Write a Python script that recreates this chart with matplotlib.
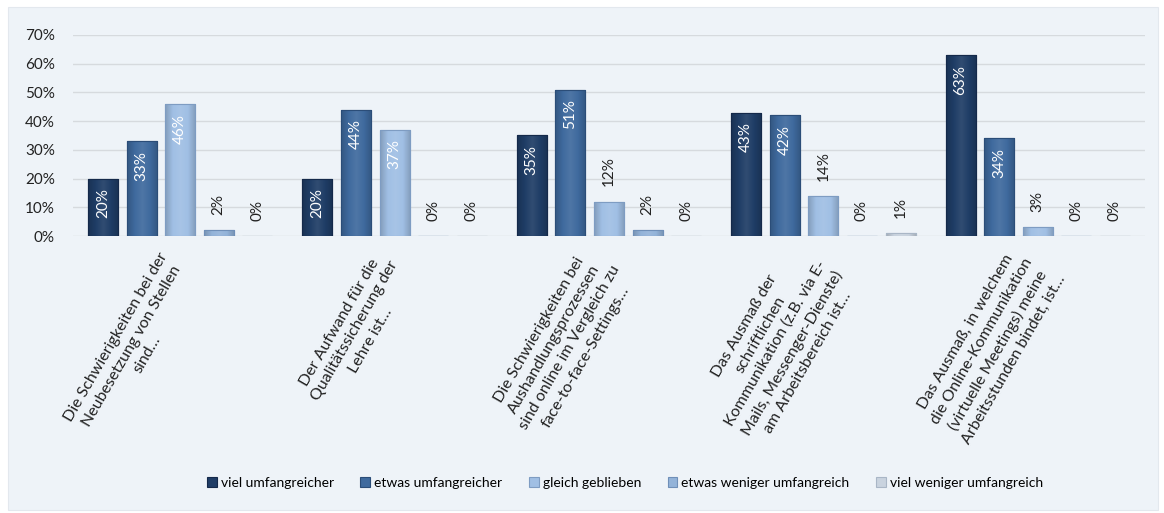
import matplotlib
matplotlib.use("Agg")
import matplotlib.pyplot as plt
from matplotlib.patches import Rectangle
from matplotlib.colors import LinearSegmentedColormap, to_rgb
import numpy as np

categories = [
    "Die Schwierigkeiten bei der\nNeubesetzung von Stellen\nsind…",
    "Der Aufwand für die\nQualitätssicherung der\nLehre ist…",
    "Die Schwierigkeiten bei\nAushandlungsprozessen\nsind online im Vergleich zu\nface-to-face-Settings…",
    "Das Ausmaß der\nschriftlichen\nKommunikation (z.B. via E-\nMails, Messenger-Dienste)\nam Arbeitsbereich ist…",
    "Das Ausmaß, in welchem\ndie Online-Kommunikation\n(virtuelle Meetings) meine\nArbeitsstunden bindet, ist…",
]
series_names = ["viel umfangreicher", "etwas umfangreicher", "gleich geblieben",
                "etwas weniger umfangreich", "viel weniger umfangreich"]
viel_umfangreicher = [20, 20, 35, 43, 63]
etwas_umfangreicher = [33, 44, 51, 42, 34]
gleich_geblieben = [46, 37, 12, 14, 3]
etwas_weniger = [2, 0, 2, 0, 0]
viel_weniger = [0, 0, 0, 1, 0]
values = [viel_umfangreicher, etwas_umfangreicher, gleich_geblieben, etwas_weniger, viel_weniger]
yticks = [0, 10, 20, 30, 40, 50, 60, 70]

colors = ["#1f3d66", "#3f6a9e", "#a0bfe4", "#93b3d9", "#c9d3df"]
edges = ["#14294a", "#2b4d78", "#7e9cc2", "#6f8fb8", "#a9b6c6"]

plt.rcParams['font.family'] = ['Lato', 'DejaVu Sans']

fig = plt.figure(figsize=(11.64, 5.13), dpi=100)
fig.patch.set_facecolor("white")
fig.patches.append(Rectangle((8/1164, 3/513), 1150/1164, 503/513, transform=fig.transFigure,
                             facecolor="#eef3f8", edgecolor="#e3e8ee", lw=0.8, zorder=-5))

ax = fig.add_axes([73/1164, 1-236/513, (1145-73)/1164, (236-35)/513])
ax.set_facecolor("none")


def shade(c, f):
    r = np.array(to_rgb(c))
    if f < 1:
        return tuple(r * f)
    return tuple(r + (1 - r) * (f - 1))


x = np.arange(len(categories))
step = 0.18
width = 0.14
prof = np.linspace(0, 1, 64)
grad = np.vstack([prof, prof])
for i, (name, vals) in enumerate(zip(series_names, values)):
    pos = x + (i - 2) * step
    bars = ax.bar(pos, [v / 100 for v in vals], width, color=colors[i], edgecolor=edges[i],
                  linewidth=0.8, label=name, zorder=3)
    cmap = LinearSegmentedColormap.from_list(
        f"g{i}", [shade(colors[i], 0.82), shade(colors[i], 1.0), shade(colors[i], 1.08),
                  shade(colors[i], 1.0), shade(colors[i], 0.82)])
    for b, v in zip(bars, vals):
        cx = b.get_x() + b.get_width() / 2
        h = b.get_height()
        if h > 0:
            im = ax.imshow(grad, extent=[b.get_x(), b.get_x() + b.get_width(), 0, h],
                           aspect="auto", cmap=cmap, zorder=3.1, interpolation="bilinear")
            im.set_clip_path(b)
        if v >= 20:
            ax.annotate(f"{v}%", (cx, h), xytext=(0, -7), textcoords="offset points",
                        rotation=90, ha="center", va="top", color="white", fontsize=11, zorder=4)
        else:
            ax.annotate(f"{v}%", (cx, h), xytext=(0, 11), textcoords="offset points",
                        rotation=90, ha="center", va="bottom", color="#222222", fontsize=11, zorder=4)
    for b in bars:
        ax.add_patch(Rectangle((b.get_x(), 0), b.get_width(), b.get_height(), fill=False,
                               edgecolor=edges[i], lw=0.8, zorder=3.2))

ax.set_ylim(0, 0.7)
ax.set_xlim(-0.5, len(categories) - 0.5)
ax.set_yticks([t / 100 for t in yticks])
ax.set_yticklabels([f"{t}%" for t in yticks], fontsize=11, color="#222222")
ax.yaxis.grid(True, color="#d6dade", lw=1, zorder=0)
ax.set_axisbelow(True)
for s in ax.spines.values():
    s.set_visible(False)
ax.tick_params(axis="y", length=0, pad=13)
ax.tick_params(axis="x", length=0, pad=19)
ax.set_xticks(x)
ax.set_xticklabels(categories, rotation=60, ha="right", va="center", rotation_mode="anchor",
                   multialignment="center", fontsize=11.5, color="#222222", linespacing=1.35)

handles, labels = ax.get_legend_handles_labels()
fig.legend(handles, labels, loc="center", bbox_to_anchor=(625/1164, 1-483/513), ncol=5,
           frameon=False, fontsize=10, handlelength=0.7, handleheight=0.7,
           handletextpad=0.3, columnspacing=1.9)

fig.savefig("out.png", dpi=100, facecolor="white")
